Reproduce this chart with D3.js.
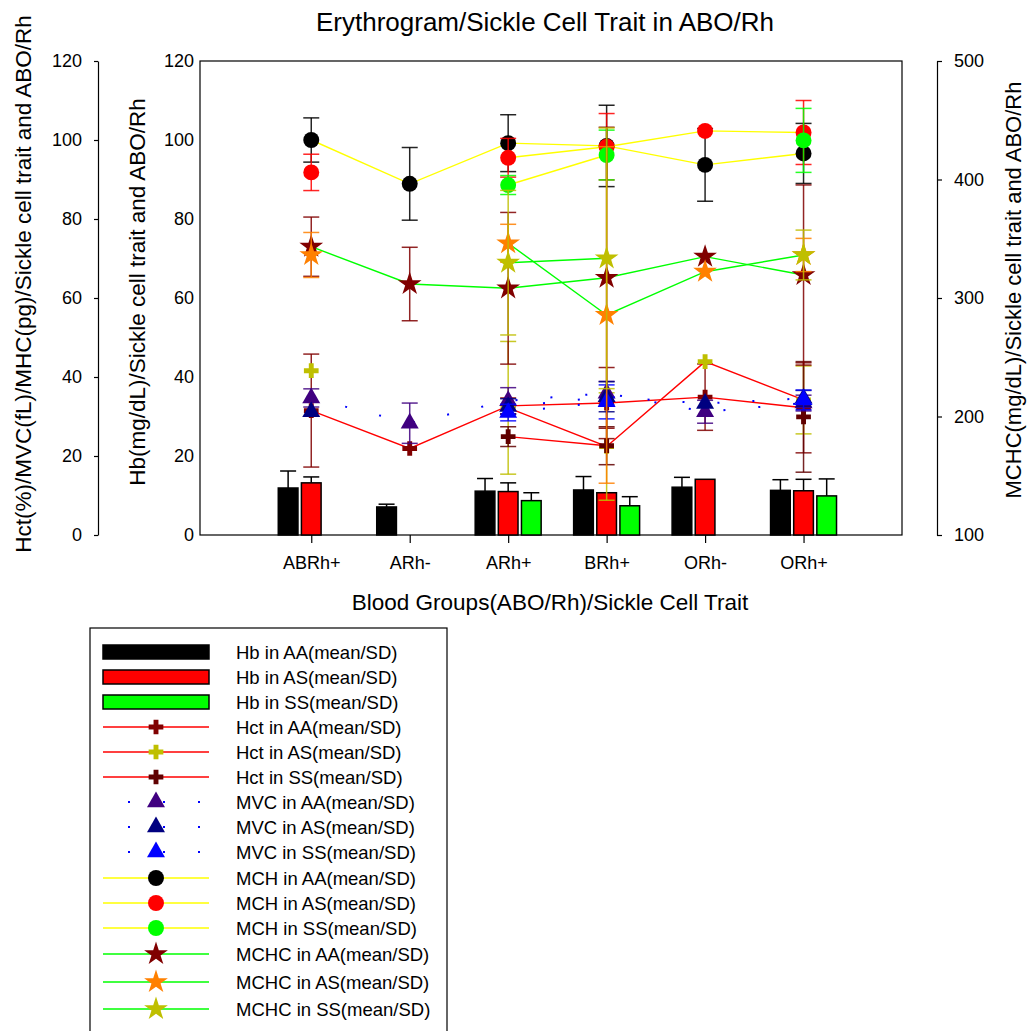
<!DOCTYPE html>
<html>
<head>
<meta charset="utf-8">
<script src="https://cdn.jsdelivr.net/npm/d3@7"></script>
<style>
  body { margin: 0; background: #fff; }
  text { font-family: Arial, "Liberation Sans", sans-serif; fill: #000; }
</style>
</head>
<body>
<script>
// categories
const groups = ["ABRh+", "ARh-", "ARh+", "BRh+", "ORh-", "ORh+"];

// Hb (bars, inner left axis)
const hbAA = [11.9, 7.1, 11.1, 11.4, 12.1, 11.3];
const hbAAsd = [4.3, 0.7, 3.2, 3.4, 2.5, 2.7];
const hbAS = [13.2, null, 11.0, 10.7, 14.1, 11.2];
const hbASsd = [1.5, null, 2.2, null, null, 2.9];
const hbSS = [null, null, 8.7, 7.4, null, 9.9];
const hbSSsd = [null, null, 2.0, 2.3, null, 4.3];

// Hct (%)
const hctAA = [31.5, 21.9, 32.7, 33.4, 34.9, 32.2];
const hctAAsd = [14.3, null, 2.0, 9.0, 8.4, 11.4];
const hctAS = [41.6, null, 32.2, 22.4, 43.9, 34.2];
const hctASsd = [null, null, 16.8, 13.6, null, 8.6];
const hctSS = [null, null, 24.9, 22.6, null, 29.9];
const hctSSsd = [null, null, 2.5, 4.8, null, 14.0];

// MVC (fL)
const mvcAA = [34.7, 28.3, 34.0, 35.9, 31.2, 33.4];
const mvcAAsd = [2.3, 5.1, 3.3, 3.0, 2.9, 2.0];
const mvcAS = [31.2, null, 32.5, 35.0, 33.3, 34.6];
const mvcASsd = [null, null, 2.0, 3.8, null, 2.0];
const mvcSS = [null, null, 31.0, 33.7, null, 34.2];
const mvcSSsd = [null, null, 2.1, 4.3, null, 2.5];

// MCH (pg)
const mchAA = [100.0, 88.9, 99.2, 98.5, 93.7, 96.6];
const mchAAsd = [5.6, 9.2, 7.2, 10.3, 9.2, 7.6];
const mchAS = [91.8, null, 95.5, 98.3, 102.3, 101.9];
const mchASsd = [4.6, null, 4.9, 8.4, null, 8.1];
const mchSS = [null, null, 88.6, 96.2, null, 99.9];
const mchSSsd = [null, null, 2.4, 6.3, null, 8.1];

// MCHC (right axis)
const mchcAA = [343.3, 311.8, 308.2, 317.1, 334.9, 319.4];
const mchcAAsd = [25, 31, 64, 127, null, 76];
const mchcAS = [336.3, null, 346.2, 285.7, 322.2, 336.3];
const mchcASsd = [19, null, 16, 142, null, 14];
const mchcSS = [null, null, 329.8, 333.5, null, 336.3];
const mchcSSsd = [null, null, 61, 110, null, 21];

const leftTicks = [0, 20, 40, 60, 80, 100, 120];
const rightTicks = [100, 200, 300, 400, 500];

let svg = d3.select("body").append("svg")
  .attr("width", 1027).attr("height", 1031);

// scales
let x = d3.scaleLinear().domain([-1.13, 6.0]).range([200, 902]);
let yL = d3.scaleLinear().domain([0, 120]).range([535, 61]);
let yR = d3.scaleLinear().domain([100, 500]).range([535, 61]);

// title
svg.append("text").attr("x", 545).attr("y", 31)
  .attr("text-anchor", "middle").style("font-size", "26px")
  .text("Erythrogram/Sickle Cell Trait in ABO/Rh");

// frame
svg.append("rect").attr("x", 200).attr("y", 61)
  .attr("width", 702).attr("height", 474)
  .attr("fill", "none").attr("stroke", "#000").attr("stroke-width", 1.2);

// outer left axis
let gOut = svg.append("g").attr("transform", "translate(98,0)")
  .call(d3.axisLeft(yL).tickValues(leftTicks).tickSize(4).tickSizeOuter(0).tickPadding(12));
// inner left axis (Hb)
let gIn = svg.append("g").attr("transform", "translate(200,0)")
  .call(d3.axisLeft(yL).tickValues(leftTicks).tickSize(0).tickPadding(6));
gIn.select(".domain").remove();
// right axis (MCHC)
let gR = svg.append("g").attr("transform", "translate(937,0)")
  .call(d3.axisRight(yR).tickValues(rightTicks).tickSize(5).tickSizeOuter(0).tickPadding(12));
// x axis
let gX = svg.append("g").attr("transform", "translate(0,535)")
  .call(d3.axisBottom(x).tickValues(d3.range(groups.length)).tickFormat(i => groups[i])
    .tickSize(8).tickPadding(13));
gX.select(".domain").remove();

[gOut, gIn, gR, gX].forEach(g => {
  g.selectAll("text").style("font-size", "18px").style("font-family", "Arial, 'Liberation Sans', sans-serif").attr("fill", "#000");
  g.selectAll("line, path").attr("stroke", "#000").attr("stroke-width", 1.2);
});

// axis titles
svg.append("text").attr("transform", "translate(31,284) rotate(-90)")
  .attr("text-anchor", "middle").style("font-size", "22.5px")
  .text("Hct(%)/MVC(fL)/MHC(pg)/Sickle cell trait and ABO/Rh");
svg.append("text").attr("transform", "translate(145,292) rotate(-90)")
  .attr("text-anchor", "middle").style("font-size", "22.5px")
  .text("Hb(mg/dL)/Sickle cell trait and ABO/Rh");
svg.append("text").attr("transform", "translate(1021,290) rotate(-90)")
  .attr("text-anchor", "middle").style("font-size", "22px")
  .text("MCHC(mg/dL)/Sickle cell trait and ABO/Rh");
svg.append("text").attr("x", 550).attr("y", 610)
  .attr("text-anchor", "middle").style("font-size", "22.5px")
  .text("Blood Groups(ABO/Rh)/Sickle Cell Trait");

/*
 *  B A R S
 */
let barSeries = [
  { name: "Hb in AA(mean/SD)", vals: hbAA, sd: hbAAsd, fill: "#000000", off: -0.235 },
  { name: "Hb in AS(mean/SD)", vals: hbAS, sd: hbASsd, fill: "#ff0000", off: 0 },
  { name: "Hb in SS(mean/SD)", vals: hbSS, sd: hbSSsd, fill: "#00ff00", off: 0.235 }
];
let barW = x(0.2) - x(0);
let capW = 16;

barSeries.forEach(s => {
  let pts = s.vals.map((v, i) => ({ i: i, v: v, sd: s.sd[i] })).filter(d => d.v != null);
  let g = svg.append("g");
  g.selectAll("line.err").data(pts.filter(d => d.sd != null)).enter().append("line")
    .attr("x1", d => x(d.i + s.off)).attr("x2", d => x(d.i + s.off))
    .attr("y1", d => yL(d.v)).attr("y2", d => yL(d.v + d.sd))
    .attr("stroke", "#000").attr("stroke-width", 1.5);
  g.selectAll("line.cap").data(pts.filter(d => d.sd != null)).enter().append("line")
    .attr("x1", d => x(d.i + s.off) - capW / 2).attr("x2", d => x(d.i + s.off) + capW / 2)
    .attr("y1", d => yL(d.v + d.sd)).attr("y2", d => yL(d.v + d.sd))
    .attr("stroke", "#000").attr("stroke-width", 1.5);
  g.selectAll("rect").data(pts).enter().append("rect")
    .attr("x", d => x(d.i + s.off) - barW / 2)
    .attr("y", d => yL(d.v))
    .attr("width", barW)
    .attr("height", d => yL(0) - yL(d.v))
    .attr("fill", s.fill).attr("stroke", "#000").attr("stroke-width", 1.5);
});

/*
 *  L I N E   +   S Y M B O L   S E R I E S
 */
let dotted = "2 33";
let lineSeries = [
  { name: "Hct in AA(mean/SD)", vals: hctAA, sd: hctAAsd, color: "#800000", shape: d3.symbolCross, size: 120, line: "#ff0000", dash: null, y: yL },
  { name: "Hct in AS(mean/SD)", vals: hctAS, sd: hctASsd, color: "#bfbf00", shape: d3.symbolCross, size: 120, line: "#ff0000", dash: null, y: yL },
  { name: "Hct in SS(mean/SD)", vals: hctSS, sd: hctSSsd, color: "#600000", shape: d3.symbolCross, size: 120, line: "#ff0000", dash: null, y: yL },
  { name: "MVC in AA(mean/SD)", vals: mvcAA, sd: mvcAAsd, color: "#400080", shape: d3.symbolTriangle, size: 140, line: "#0000ff", dash: dotted, y: yL },
  { name: "MVC in AS(mean/SD)", vals: mvcAS, sd: mvcASsd, color: "#000080", shape: d3.symbolTriangle, size: 140, line: "#0000ff", dash: dotted, y: yL },
  { name: "MVC in SS(mean/SD)", vals: mvcSS, sd: mvcSSsd, color: "#0000ff", shape: d3.symbolTriangle, size: 140, line: "#0000ff", dash: dotted, y: yL },
  { name: "MCH in AA(mean/SD)", vals: mchAA, sd: mchAAsd, color: "#000000", shape: d3.symbolCircle, size: 200, line: "#ffff00", dash: null, y: yL },
  { name: "MCH in AS(mean/SD)", vals: mchAS, sd: mchASsd, color: "#ff0000", shape: d3.symbolCircle, size: 200, line: "#ffff00", dash: null, y: yL },
  { name: "MCH in SS(mean/SD)", vals: mchSS, sd: mchSSsd, color: "#00ff00", shape: d3.symbolCircle, size: 200, line: "#ffff00", dash: null, y: yL },
  { name: "MCHC in AA(mean/SD)", vals: mchcAA, sd: mchcAAsd, color: "#800000", shape: d3.symbolStar, size: 175, line: "#00ff00", dash: null, y: yR },
  { name: "MCHC in AS(mean/SD)", vals: mchcAS, sd: mchcASsd, color: "#ff8000", shape: d3.symbolStar, size: 175, line: "#00ff00", dash: null, y: yR },
  { name: "MCHC in SS(mean/SD)", vals: mchcSS, sd: mchcSSsd, color: "#bfbf00", shape: d3.symbolStar, size: 175, line: "#00ff00", dash: null, y: yR }
];

lineSeries.forEach(s => {
  let data = s.vals.map((v, i) => ({ i: i, v: v, sd: s.sd[i] }));
  let pts = data.filter(d => d.v != null);
  let g = svg.append("g");
  let line = d3.line().defined(d => d.v != null).x(d => x(d.i)).y(d => s.y(d.v));
  g.append("path").datum(data).attr("d", line)
    .attr("fill", "none").attr("stroke", s.line)
    .attr("stroke-width", s.dash ? 2 : 1.4)
    .attr("stroke-dasharray", s.dash);
  let errs = pts.filter(d => d.sd != null);
  g.selectAll("line.err").data(errs).enter().append("line")
    .attr("x1", d => x(d.i)).attr("x2", d => x(d.i))
    .attr("y1", d => s.y(d.v + d.sd)).attr("y2", d => s.y(d.v - d.sd))
    .attr("stroke", s.color).attr("stroke-width", 1.5).attr("opacity", 0.85);
  [1, -1].forEach(k => {
    g.selectAll("line.cap" + k).data(errs).enter().append("line")
      .attr("x1", d => x(d.i) - capW / 2).attr("x2", d => x(d.i) + capW / 2)
      .attr("y1", d => s.y(d.v + k * d.sd)).attr("y2", d => s.y(d.v + k * d.sd))
      .attr("stroke", s.color).attr("stroke-width", 1.5).attr("opacity", 0.85);
  });
  g.selectAll("path.sym").data(pts).enter().append("path")
    .attr("transform", d => "translate(" + x(d.i) + "," + s.y(d.v) + ")")
    .attr("d", d3.symbol().type(s.shape).size(s.size))
    .attr("fill", s.color);
});

/*
 *  L E G E N D
 */
svg.append("rect").attr("x", 90).attr("y", 628)
  .attr("width", 357).attr("height", 430)
  .attr("fill", "none").attr("stroke", "#000").attr("stroke-width", 1.2);

let rowY = [652, 677, 702, 727, 752, 777, 802, 827, 852, 878, 903, 928, 954, 982, 1009];
let leg = svg.append("g");
barSeries.forEach((s, k) => {
  leg.append("rect").attr("x", 103).attr("y", rowY[k] - 7)
    .attr("width", 106).attr("height", 14)
    .attr("fill", s.fill).attr("stroke", "#000").attr("stroke-width", 1.5);
  leg.append("text").attr("x", 236).attr("y", rowY[k] + 6.5)
    .style("font-size", "18.5px").text(s.name);
});
lineSeries.forEach((s, j) => {
  let yy = rowY[j + 3];
  leg.append("line").attr("x1", 103).attr("x2", 209).attr("y1", yy).attr("y2", yy)
    .attr("stroke", s.line).attr("stroke-width", s.dash ? 2 : 1.4)
    .attr("stroke-dasharray", s.dash).attr("stroke-dashoffset", s.dash ? 10 : null);
  leg.append("path").attr("transform", "translate(156," + yy + ")")
    .attr("d", d3.symbol().type(s.shape).size(s.size)).attr("fill", s.color);
  leg.append("text").attr("x", 236).attr("y", yy + 6.5)
    .style("font-size", "18.5px").text(s.name);
});
</script>
</body>
</html>
